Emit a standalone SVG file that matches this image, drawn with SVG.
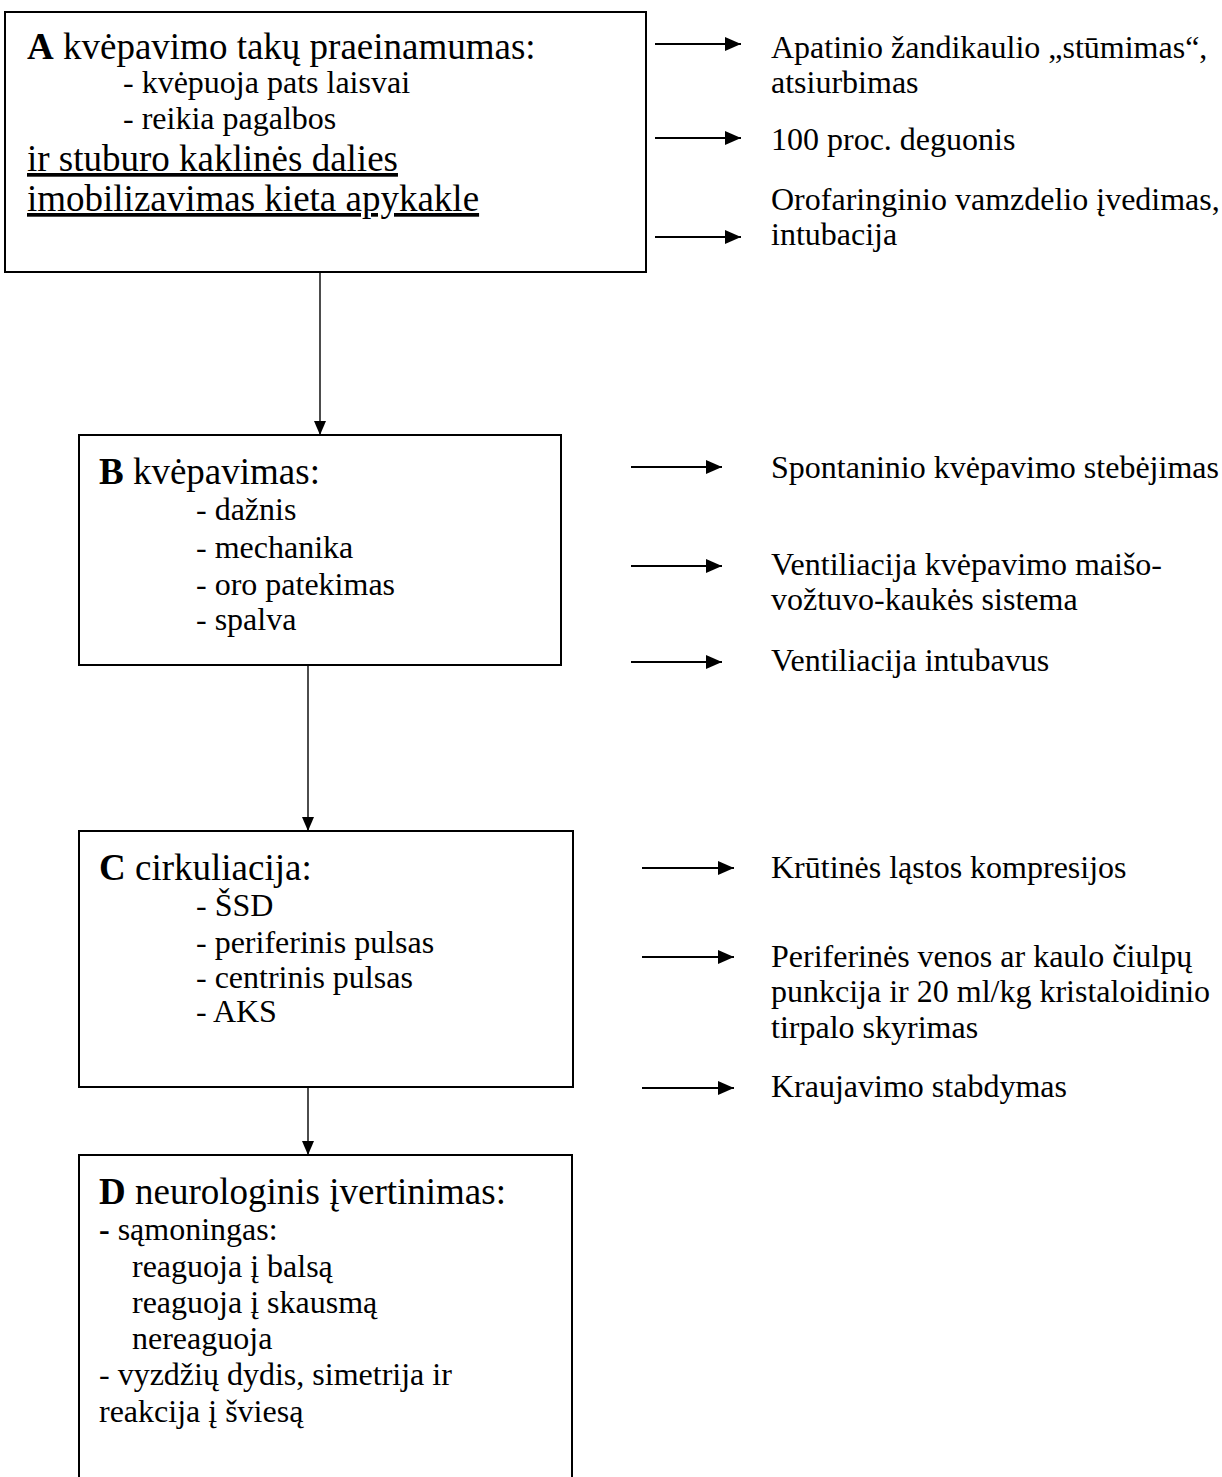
<svg xmlns="http://www.w3.org/2000/svg" width="1222" height="1477" viewBox="0 0 1222 1477">
<style>
text{font-family:"Liberation Serif","Times New Roman",serif;fill:#000}
.t{font-size:37px}
.s{font-size:32px}
.b{font-weight:bold}
.u{text-decoration:underline}
.box{fill:#fff;stroke:#000;stroke-width:2}
.con{stroke:#000;stroke-width:1.4;fill:none}
.side{stroke:#000;stroke-width:2;fill:none}
</style>
<defs>
<marker id="ah" viewBox="0 0 14 12" refX="14" refY="6" markerWidth="14" markerHeight="12" markerUnits="userSpaceOnUse" orient="auto">
<path d="M0,0 L14,6 L0,12 Z" fill="#000"/>
</marker>
<marker id="ahs" viewBox="0 0 16 14" refX="16" refY="7" markerWidth="16" markerHeight="14" markerUnits="userSpaceOnUse" orient="auto">
<path d="M0,0 L16,7 L0,14 Z" fill="#000"/>
</marker>
</defs>
<g id="connectors">
<line class="con" x1="320" y1="272" x2="320" y2="435" marker-end="url(#ah)"/>
<line class="con" x1="308" y1="665" x2="308" y2="831" marker-end="url(#ah)"/>
<line class="con" x1="308" y1="1087" x2="308" y2="1155" marker-end="url(#ah)"/>
<line class="side" x1="655" y1="44" x2="741" y2="44" marker-end="url(#ahs)"/>
<line class="side" x1="655" y1="138" x2="741" y2="138" marker-end="url(#ahs)"/>
<line class="side" x1="655" y1="237" x2="741" y2="237" marker-end="url(#ahs)"/>
<line class="side" x1="631" y1="467" x2="722" y2="467" marker-end="url(#ahs)"/>
<line class="side" x1="631" y1="566" x2="722" y2="566" marker-end="url(#ahs)"/>
<line class="side" x1="631" y1="662" x2="722" y2="662" marker-end="url(#ahs)"/>
<line class="side" x1="642" y1="868" x2="734" y2="868" marker-end="url(#ahs)"/>
<line class="side" x1="642" y1="957" x2="734" y2="957" marker-end="url(#ahs)"/>
<line class="side" x1="642" y1="1088" x2="734" y2="1088" marker-end="url(#ahs)"/>
</g>
<g id="nodeA">
<rect class="box" x="5" y="12" width="641" height="260"/>
<text class="t" x="27" y="59"><tspan class="b">A</tspan> kvėpavimo takų praeinamumas:</text>
<text class="s" x="123" y="93">- kvėpuoja pats laisvai</text>
<text class="s" x="123" y="129">- reikia pagalbos</text>
<text class="t u" x="27" y="171">ir stuburo kaklinės dalies</text>
<text class="t u" x="27" y="211">imobilizavimas kieta apykakle</text>
</g>
<g id="nodeA-actions">
<text class="s" x="771" y="58">Apatinio žandikaulio „stūmimas“,</text>
<text class="s" x="771" y="93">atsiurbimas</text>
<text class="s" x="771" y="150">100 proc. deguonis</text>
<text class="s" x="771" y="210">Orofaringinio vamzdelio įvedimas,</text>
<text class="s" x="771" y="245">intubacija</text>
</g>
<g id="nodeB">
<rect class="box" x="79" y="435" width="482" height="230"/>
<text class="t" x="99" y="484"><tspan class="b">B</tspan> kvėpavimas:</text>
<text class="s" x="196" y="520">- dažnis</text>
<text class="s" x="196" y="558">- mechanika</text>
<text class="s" x="196" y="595">- oro patekimas</text>
<text class="s" x="196" y="630">- spalva</text>
</g>
<g id="nodeB-actions">
<text class="s" x="771" y="478">Spontaninio kvėpavimo stebėjimas</text>
<text class="s" x="771" y="575">Ventiliacija kvėpavimo maišo-</text>
<text class="s" x="771" y="610">vožtuvo-kaukės sistema</text>
<text class="s" x="771" y="671">Ventiliacija intubavus</text>
</g>
<g id="nodeC">
<rect class="box" x="79" y="831" width="494" height="256"/>
<text class="t" x="99" y="880"><tspan class="b">C</tspan> cirkuliacija:</text>
<text class="s" x="196" y="916">- ŠSD</text>
<text class="s" x="196" y="953">- periferinis pulsas</text>
<text class="s" x="196" y="988">- centrinis pulsas</text>
<text class="s" x="196" y="1022">- AKS</text>
</g>
<g id="nodeC-actions">
<text class="s" x="771" y="878">Krūtinės ląstos kompresijos</text>
<text class="s" x="771" y="967">Periferinės venos ar kaulo čiulpų</text>
<text class="s" x="771" y="1002">punkcija ir 20 ml/kg kristaloidinio</text>
<text class="s" x="771" y="1038">tirpalo skyrimas</text>
<text class="s" x="771" y="1097">Kraujavimo stabdymas</text>
</g>
<g id="nodeD">
<path class="box" d="M79,1480 V1155 H572 V1480"/>
<text class="t" x="99" y="1204"><tspan class="b">D</tspan> neurologinis įvertinimas:</text>
<text class="s" x="99" y="1240"><tspan class="b">-</tspan> sąmoningas:</text>
<text class="s" x="132" y="1277">reaguoja į balsą</text>
<text class="s" x="132" y="1313">reaguoja į skausmą</text>
<text class="s" x="132" y="1349">nereaguoja</text>
<text class="s" x="99" y="1385">- vyzdžių dydis, simetrija ir</text>
<text class="s" x="99" y="1422">reakcija į šviesą</text>
</g>
</svg>
